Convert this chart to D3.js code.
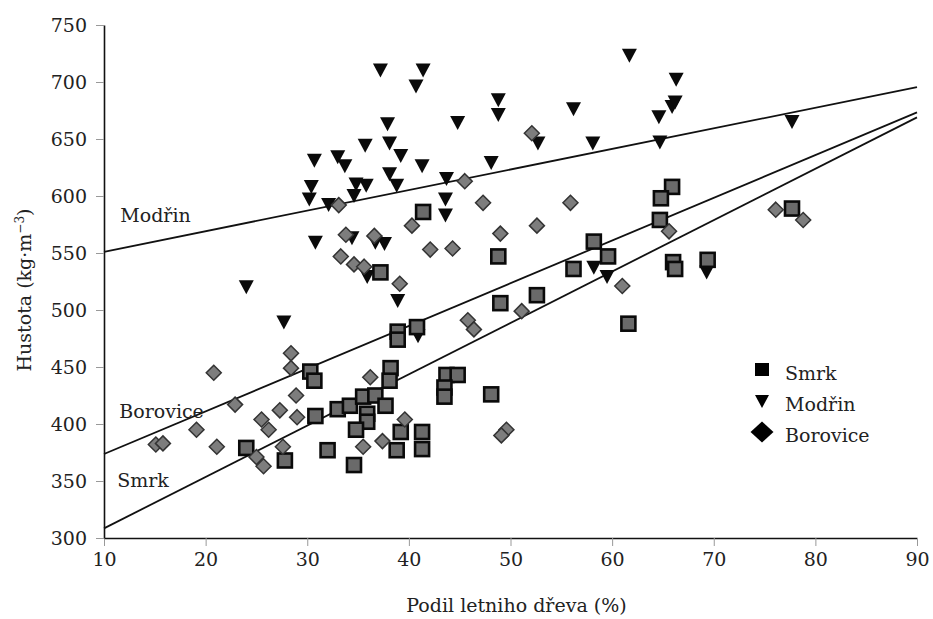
<!DOCTYPE html>
<html>
<head>
<meta charset="utf-8">
<script src="https://cdn.jsdelivr.net/npm/d3@7"></script>
<style>
  html, body { margin: 0; padding: 0; background: #fff; }
  svg { display: block; }
  text { font-family: "DejaVu Serif", "Liberation Serif", serif; fill: #222; }
</style>
</head>
<body>
<svg id="chart" width="933" height="619"></svg>
<script>
// Smrk (spruce): [latewood share %, density kg/m3]
const smrk = [
  [41.4,586],[37.2,533],[48.8,547],[58.2,560],[59.6,547],[56.2,536],[49.0,506],[52.6,513],
  [65.9,608],[64.8,598],[64.7,579],[77.7,589],[66.0,542],[66.2,536],[69.4,544],[61.6,488],
  [38.9,481],[38.9,474],[40.8,485],[38.2,449],[38.1,438],[43.7,443],[44.8,443],[43.5,432],
  [43.5,424],[48.1,426],[30.3,446],[30.7,438],[30.8,407],[33.0,413],[34.2,416],[35.5,424],
  [36.7,425],[37.7,416],[35.9,409],[35.9,402],[34.8,395],[34.6,364],[32.0,377],[38.8,377],
  [39.2,393],[41.3,393],[41.3,378],[24.0,379],[27.8,368]
];

// Modřin (larch)
const modrin = [
  [37.2,710],[41.4,710],[40.7,696],[37.9,663],[44.8,664],[35.7,644],[38.1,646],[39.2,635],
  [30.7,631],[33.0,634],[33.7,626],[41.3,626],[38.1,619],[38.8,609],[30.4,608],[30.2,597],
  [34.8,610],[35.8,609],[34.6,600],[32.1,592],[43.7,615],[43.6,597],[43.6,583],[30.8,559],
  [34.4,563],[36.7,559],[37.6,558],[35.9,529],[38.9,508],[40.9,477],[24.0,520],[27.7,489],
  [48.1,629],[48.8,684],[48.8,671],[56.2,676],[52.7,646],[58.1,646],[61.7,723],[66.3,702],
  [65.9,678],[66.2,682],[64.6,669],[64.7,647],[77.7,665],[58.2,537],[59.5,529],[69.3,533]
];

// Borovice (pine)
const borovice = [
  [52.1,655],[45.5,613],[47.3,594],[55.9,594],[33.1,592],[40.3,574],[49.0,567],[52.6,574],
  [65.6,569],[33.8,566],[36.6,565],[42.1,553],[44.3,554],[33.3,547],[34.6,540],[35.6,538],
  [39.1,523],[61.0,521],[51.1,499],[45.8,491],[46.4,483],[76.1,588],[78.8,579],[36.2,441],
  [39.6,404],[35.5,380],[37.4,385],[49.6,395],[49.1,390],[28.4,462],[28.4,449],[20.8,445],
  [22.9,417],[28.9,425],[27.3,412],[25.5,404],[26.2,395],[29.0,406],[19.1,395],[15.1,382],
  [15.8,383],[21.1,380],[27.6,380],[25.0,371],[25.7,363]
];

// Linear fits: density = intercept + slope * share
const fitNames      = ["Modřin", "Borovice", "Smrk"];
const fitIntercepts = [533.0, 336.2, 263.4];
const fitSlopes     = [1.805, 3.746, 4.506];

const xTicks = [10, 20, 30, 40, 50, 60, 70, 80, 90];
const yTicks = [300, 350, 400, 450, 500, 550, 600, 650, 700, 750];
const legendNames = ["Smrk", "Modřin", "Borovice"];

const xTitle = "Podil letniho dřeva (%)";

const svg = d3.select("#chart");
const margin = { left: 104, right: 16, top: 25, bottom: 81 };
const W = 933, H = 619;

const x = d3.scaleLinear().domain([10, 90]).range([margin.left, W - margin.right]);
const y = d3.scaleLinear().domain([300, 750]).range([H - margin.bottom, margin.top]);

// Axes
const gx = svg.append("g")
  .attr("transform", `translate(0,${H - margin.bottom})`)
  .call(d3.axisBottom(x).tickValues(xTicks).tickSize(8).tickSizeOuter(0).tickPadding(7));
const gy = svg.append("g")
  .attr("transform", `translate(${margin.left},0)`)
  .call(d3.axisLeft(y).tickValues(yTicks).tickSize(8).tickSizeOuter(0).tickPadding(9));

[gx, gy].forEach(g => {
  g.select(".domain").attr("stroke", "#111").attr("stroke-width", 1.6);
  g.selectAll(".tick line").attr("stroke", "#999").attr("stroke-width", 1);
  g.selectAll(".tick text")
    .attr("font-family", '"DejaVu Serif", serif')
    .attr("font-size", 19)
    .attr("fill", "#222");
});

// Axis titles
svg.append("text")
  .attr("x", (x(10) + x(90)) / 2 + 6)
  .attr("y", 612)
  .attr("text-anchor", "middle")
  .attr("font-size", 19)
  .text(xTitle);

const yt = svg.append("text")
  .attr("transform", `translate(31,290) rotate(-90)`)
  .attr("text-anchor", "middle")
  .attr("font-size", 19);
yt.append("tspan").text("Hustota  (kg·m");
yt.append("tspan").attr("dy", -7).attr("font-size", 12).text("−3");
yt.append("tspan").attr("dy", 7).text(")");

// Regression lines
const fits = fitNames.map((n, i) => ({ name: n, a: fitIntercepts[i], b: fitSlopes[i] }));
svg.append("g").selectAll("line").data(fits).join("line")
  .attr("x1", x(10)).attr("x2", x(90))
  .attr("y1", d => y(d.a + d.b * 10))
  .attr("y2", d => y(d.a + d.b * 90))
  .attr("stroke", "#111").attr("stroke-width", 1.8);

// Line labels
const lineLabelPos = { "Modřin": [11.6, 577], "Borovice": [11.5, 405], "Smrk": [11.3, 345] };
svg.append("g").selectAll("text").data(fits).join("text")
  .attr("x", d => x(lineLabelPos[d.name][0]))
  .attr("y", d => y(lineLabelPos[d.name][1]))
  .attr("font-size", 19)
  .text(d => d.name);

// Marker shapes
const triPath = "M-7.5,-7L7.5,-7L0,7Z";
const diaPath = "M0,-7.5L7.5,0L0,7.5L-7.5,0Z";

// Modřin: filled down-triangles
svg.append("g").selectAll("path").data(modrin).join("path")
  .attr("d", triPath)
  .attr("transform", d => `translate(${x(d[0])},${y(d[1])})`)
  .attr("fill", "#0a0a0a");

// Smrk: grey squares with heavy black outline
svg.append("g").selectAll("rect").data(smrk).join("rect")
  .attr("x", d => x(d[0]) - 7)
  .attr("y", d => y(d[1]) - 7)
  .attr("width", 14).attr("height", 14)
  .attr("fill", "#6a6a6a")
  .attr("stroke", "#0a0a0a").attr("stroke-width", 2.6);

// Borovice: grey diamonds
svg.append("g").selectAll("path").data(borovice).join("path")
  .attr("d", diaPath)
  .attr("transform", d => `translate(${x(d[0])},${y(d[1])})`)
  .attr("fill", "#7d7d7d")
  .attr("stroke", "#333").attr("stroke-width", 1.5);

// Legend
const legendShapes = [
  "M-7,-7L7,-7L7,6L-7,6Z",
  "M-7,-6L7,-6L0,7Z",
  "M0,-10.5L11.5,0L0,10.5L-11.5,0Z"
];
const legendRowY = [370, 401, 432];
const lg = svg.append("g");
legendNames.forEach((n, i) => {
  lg.append("path")
    .attr("d", legendShapes[i])
    .attr("transform", `translate(762,${legendRowY[i]})`)
    .attr("fill", "#000");
  lg.append("text")
    .attr("x", 785)
    .attr("y", legendRowY[i] + 10)
    .attr("font-size", 19)
    .text(n);
});
</script>
</body>
</html>
